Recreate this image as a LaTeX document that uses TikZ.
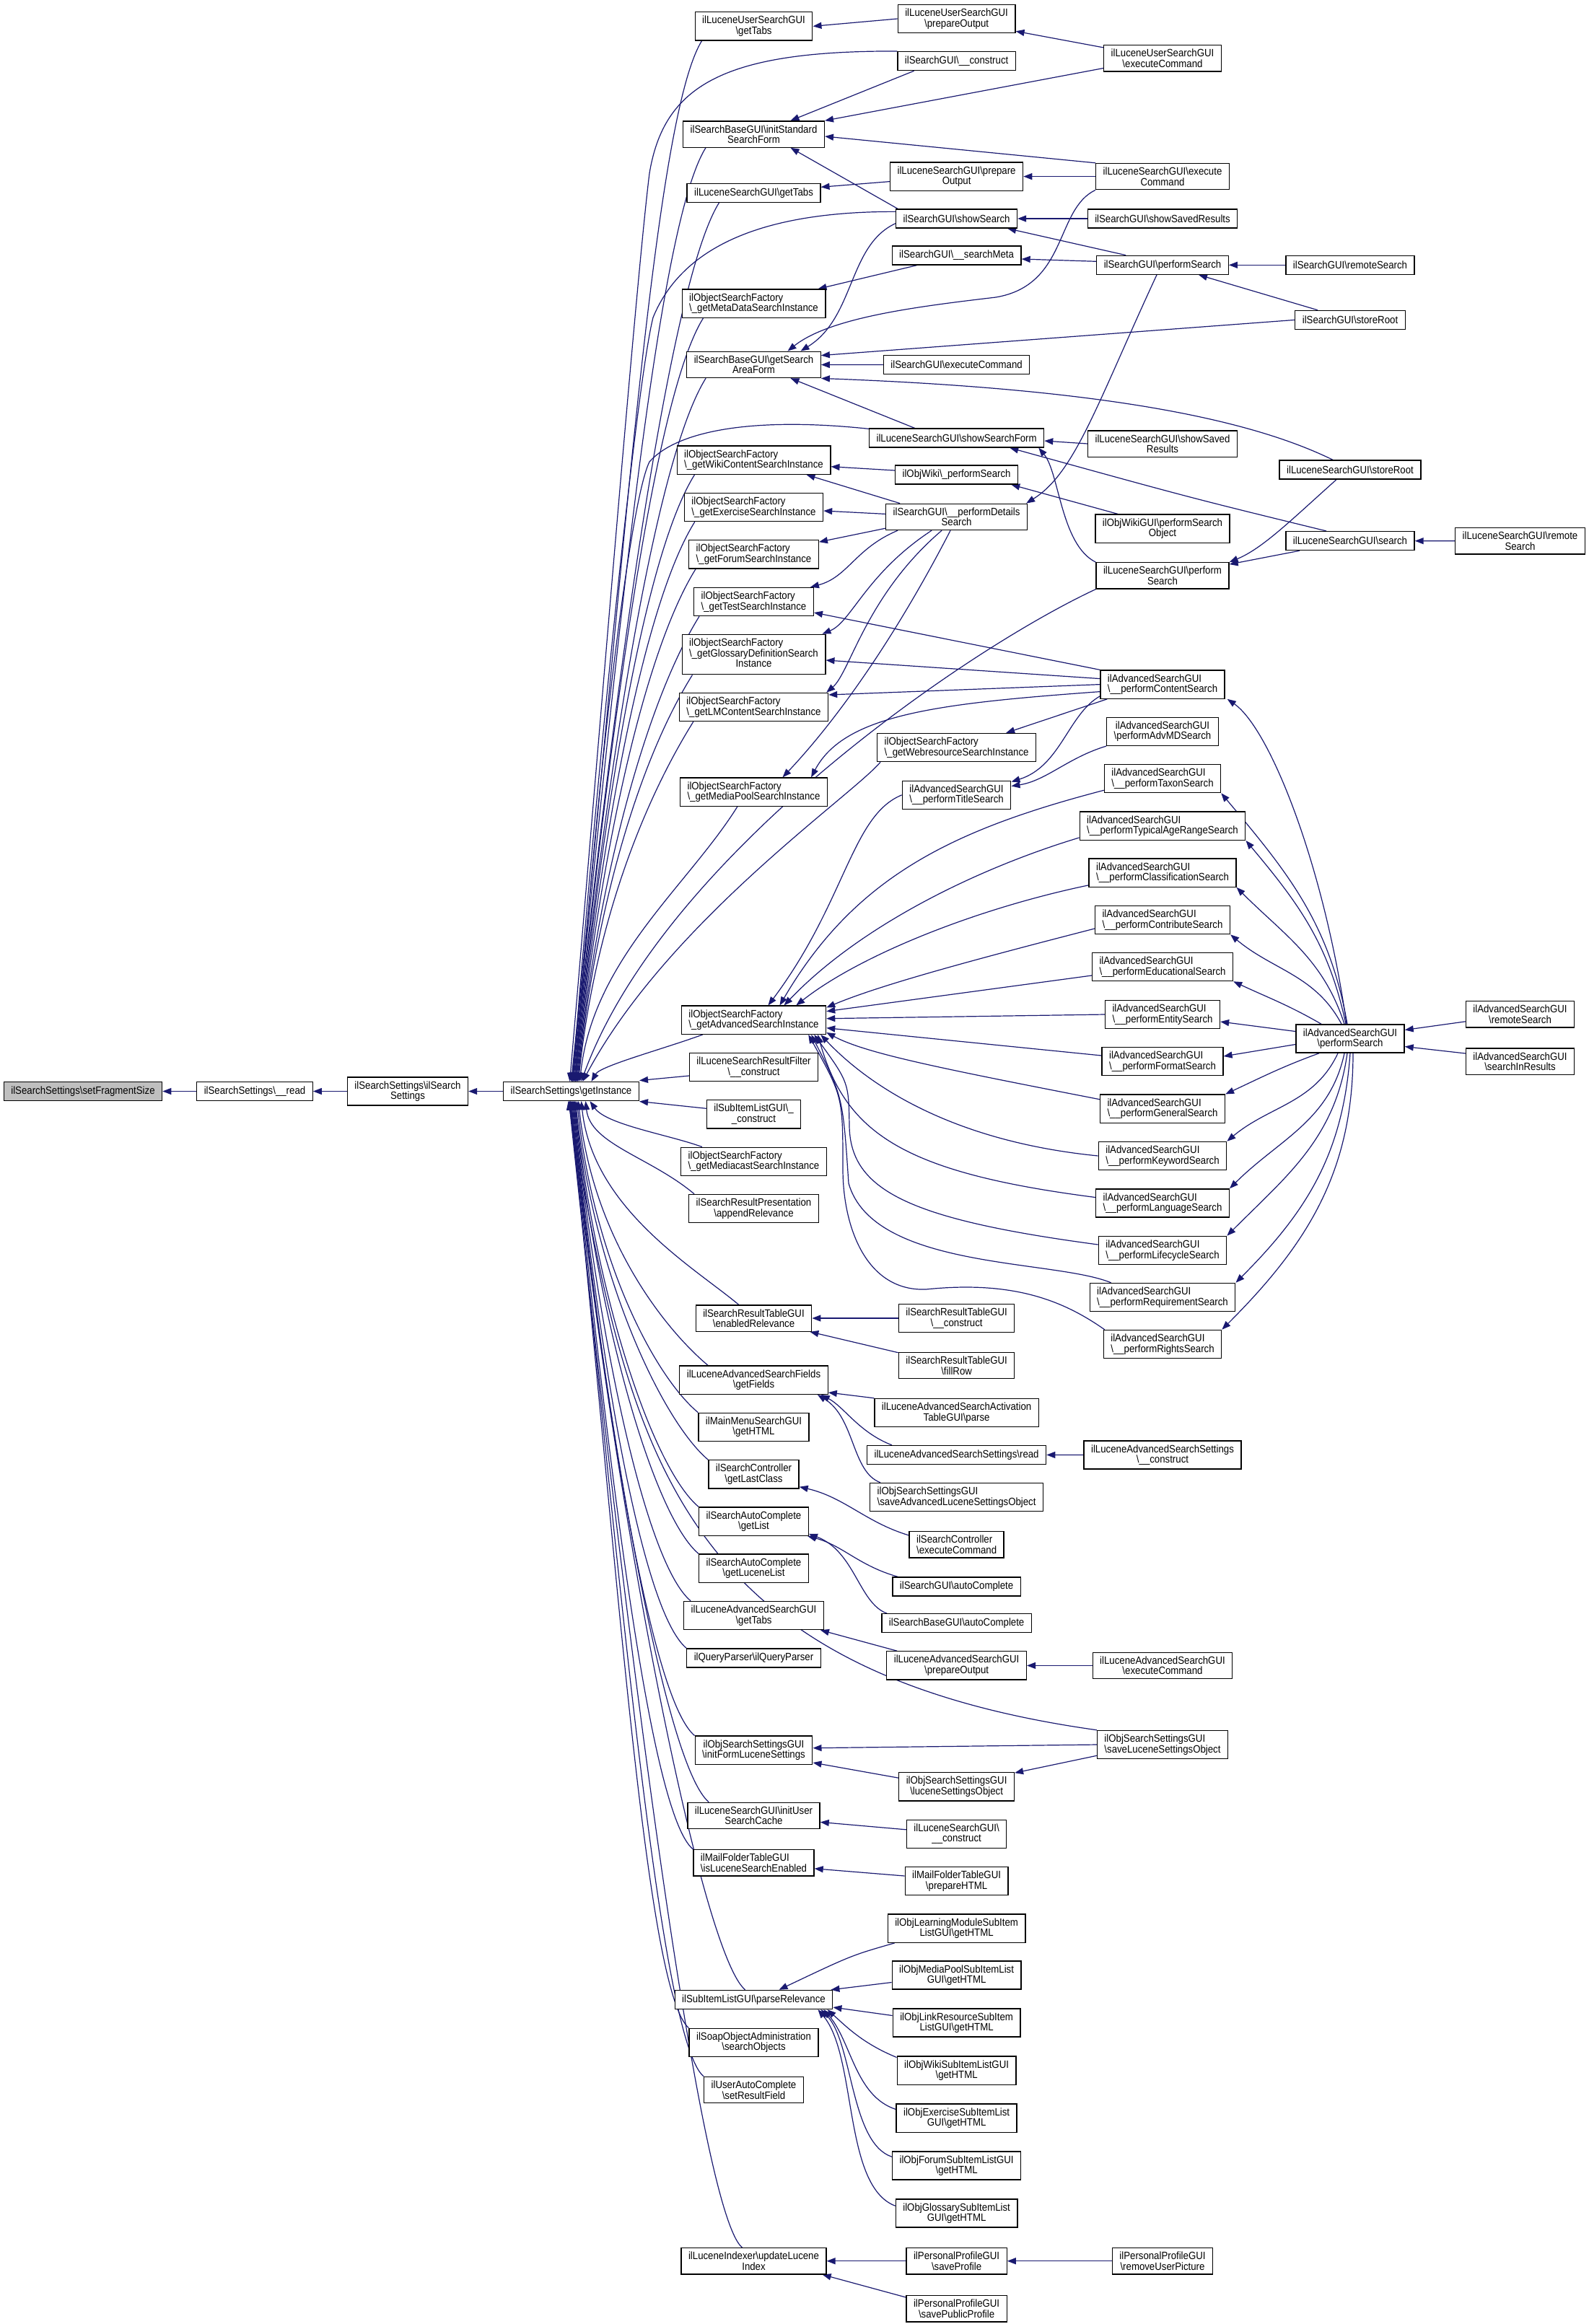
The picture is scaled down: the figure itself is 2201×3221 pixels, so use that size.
\documentclass[tikz,border=0pt]{standalone}
\usepackage{fontspec}
\setmainfont{Liberation Sans}[FakeStretch=0.9]
\usepackage{tikz}
\usetikzlibrary{arrows.meta}
\usetikzlibrary{backgrounds}
\definecolor{edgeblue}{HTML}{191970}
\definecolor{rootgray}{HTML}{BFBFBF}
\newcommand{\bs}{\textbackslash}
\tikzset{
  fn/.style={draw=black, line width=1.3pt, fill=white, inner xsep=10pt, inner ysep=5.5pt,
    minimum height=26pt, align=center, font=\fontsize{14.7}{14.5}\selectfont},
  fnl/.style={fn, align=left},
  root/.style={fn, fill=rootgray},
  call/.style={draw=edgeblue, line width=1.2pt, -{Triangle[length=12pt,width=9pt]}}
}
\begin{document}
\begin{tikzpicture}[x=1pt, y=1pt]
  \useasboundingbox (0,0) rectangle (2201,-3221);

  % the function and its direct chain
  \node[root] (fs) at (115,-1512.5) {ilSearchSettings\bs setFragmentSize};
  \node[fn] (rd) at (353,-1512.5) {ilSearchSettings\bs\_\_read};
  \node[fn] (ss) at (565,-1512.5) {ilSearchSettings\bs ilSearch\\Settings};
  \node[fn] (gi) at (791.5,-1512.5) {ilSearchSettings\bs getInstance};

  % callers of getInstance
  \node[fn] (lusTabs) at (1044.5,-36.4) {ilLuceneUserSearchGUI\\\bs getTabs};
  \node[fn] (sbInit) at (1044.5,-186) {ilSearchBaseGUI\bs initStandard\\SearchForm};
  \node[fn] (lsTabs) at (1044.5,-267.3) {ilLuceneSearchGUI\bs getTabs};
  \node[fnl] (osfMeta) at (1044.5,-420.7) {ilObjectSearchFactory\\\bs\_getMetaDataSearchInstance};
  \node[fn] (sbArea) at (1044.5,-505.4) {ilSearchBaseGUI\bs getSearch\\AreaForm};
  \node[fnl] (osfWiki) at (1044.5,-637.7) {ilObjectSearchFactory\\\bs\_getWikiContentSearchInstance};
  \node[fnl] (osfExercise) at (1044.5,-703) {ilObjectSearchFactory\\\bs\_getExerciseSearchInstance};
  \node[fnl] (osfForum) at (1044.5,-768.4) {ilObjectSearchFactory\\\bs\_getForumSearchInstance};
  \node[fnl] (osfTest) at (1044.5,-834) {ilObjectSearchFactory\\\bs\_getTestSearchInstance};
  \node[fn] (osfGlossary) at (1044.5,-907) {\begin{tabular}{@{}l@{}}ilObjectSearchFactory\\\bs\_getGlossaryDefinitionSearch\\\multicolumn{1}{@{}c@{}}{Instance}\end{tabular}};
  \node[fnl] (osfLM) at (1044.5,-980) {ilObjectSearchFactory\\\bs\_getLMContentSearchInstance};
  \node[fnl] (osfMediaPool) at (1044.5,-1097.6) {ilObjectSearchFactory\\\bs\_getMediaPoolSearchInstance};
  \node[fnl] (osfAdvanced) at (1044.5,-1413.7) {ilObjectSearchFactory\\\bs\_getAdvancedSearchInstance};
  \node[fn] (lsrFilter) at (1044.5,-1479) {ilLuceneSearchResultFilter\\\bs\_\_construct};
  \node[fn] (subConstruct) at (1044.5,-1544.3) {ilSubItemListGUI\bs\_\\\_construct};
  \node[fnl] (osfMediacast) at (1044.5,-1609.8) {ilObjectSearchFactory\\\bs\_getMediacastSearchInstance};
  \node[fn] (srpRelevance) at (1044.5,-1675) {ilSearchResultPresentation\\\bs appendRelevance};
  \node[fn] (srtRelevance) at (1044.5,-1827) {ilSearchResultTableGUI\\\bs enabledRelevance};
  \node[fn] (lasfFields) at (1044.5,-1912.7) {ilLuceneAdvancedSearchFields\\\bs getFields};
  \node[fn] (mmHTML) at (1044.5,-1977.9) {ilMainMenuSearchGUI\\\bs getHTML};
  \node[fn] (scLastClass) at (1044.5,-2043.4) {ilSearchController\\\bs getLastClass};
  \node[fn] (sacList) at (1044.5,-2108.6) {ilSearchAutoComplete\\\bs getList};
  \node[fn] (sacLucene) at (1044.5,-2173.6) {ilSearchAutoComplete\\\bs getLuceneList};
  \node[fn] (lasTabs) at (1044.5,-2239) {ilLuceneAdvancedSearchGUI\\\bs getTabs};
  \node[fn] (qpParser) at (1044.5,-2297.9) {ilQueryParser\bs ilQueryParser};
  \node[fn] (ossInit) at (1044.5,-2425.7) {ilObjSearchSettingsGUI\\\bs initFormLuceneSettings};
  \node[fn] (lsInitCache) at (1044.5,-2516.4) {ilLuceneSearchGUI\bs initUser\\SearchCache};
  \node[fnl] (mftEnabled) at (1044.5,-2581.8) {ilMailFolderTableGUI\\\bs isLuceneSearchEnabled};
  \node[fn] (silRelevance) at (1044.5,-2771.4) {ilSubItemListGUI\bs parseRelevance};
  \node[fn] (soapSearch) at (1044.5,-2830.8) {ilSoapObjectAdministration\\\bs searchObjects};
  \node[fn] (uacField) at (1044.5,-2896.6) {ilUserAutoComplete\\\bs setResultField};
  \node[fn] (liUpdate) at (1044.5,-3133.7) {ilLuceneIndexer\bs updateLucene\\Index};

  % second level
  \node[fn] (lusPrep) at (1325.6,-26) {ilLuceneUserSearchGUI\\\bs prepareOutput};
  \node[fn] (sgConstruct) at (1325.6,-84.6) {ilSearchGUI\bs\_\_construct};
  \node[fn] (lsPrep) at (1325.6,-244.6) {ilLuceneSearchGUI\bs prepare\\Output};
  \node[fn] (sgShowSearch) at (1325.6,-303) {ilSearchGUI\bs showSearch};
  \node[fn] (sgSearchMeta) at (1325.6,-354) {ilSearchGUI\bs\_\_searchMeta};
  \node[fn] (sgExec) at (1325.6,-505.7) {ilSearchGUI\bs executeCommand};
  \node[fn] (lsShowForm) at (1325.6,-607) {ilLuceneSearchGUI\bs showSearchForm};
  \node[fn] (owPerform) at (1325.6,-658) {ilObjWiki\bs\_performSearch};
  \node[fn] (sgDetails) at (1325.6,-716.4) {ilSearchGUI\bs\_\_performDetails\\Search};
  \node[fnl] (osfWeb) at (1325.6,-1036) {ilObjectSearchFactory\\\bs\_getWebresourceSearchInstance};
  \node[fnl] (advTitle) at (1325.6,-1101.8) {ilAdvancedSearchGUI\\\bs\_\_performTitleSearch};
  \node[fn] (srtConstruct) at (1325.6,-1827) {ilSearchResultTableGUI\\\bs\_\_construct};
  \node[fn] (srtFillRow) at (1325.6,-1892.5) {ilSearchResultTableGUI\\\bs fillRow};
  \node[fn] (lasaParse) at (1325.6,-1958) {ilLuceneAdvancedSearchActivation\\TableGUI\bs parse};
  \node[fn] (lassRead) at (1325.6,-2016.5) {ilLuceneAdvancedSearchSettings\bs read};
  \node[fnl] (ossAdvanced) at (1325.6,-2075) {ilObjSearchSettingsGUI\\\bs saveAdvancedLuceneSettingsObject};
  \node[fnl] (scExec) at (1325.6,-2140.7) {ilSearchController\\\bs executeCommand};
  \node[fn] (sgAuto) at (1325.6,-2199) {ilSearchGUI\bs autoComplete};
  \node[fn] (sbAuto) at (1325.6,-2249.8) {ilSearchBaseGUI\bs autoComplete};
  \node[fn] (lasPrep) at (1325.6,-2308.4) {ilLuceneAdvancedSearchGUI\\\bs prepareOutput};
  \node[fn] (ossLucene) at (1325.6,-2476.4) {ilObjSearchSettingsGUI\\\bs luceneSettingsObject};
  \node[fn] (lsConstruct) at (1325.6,-2541.8) {ilLuceneSearchGUI\bs\\\_\_construct};
  \node[fn] (mftPrep) at (1325.6,-2607) {ilMailFolderTableGUI\\\bs prepareHTML};
  \node[fn] (lmHTML) at (1325.6,-2672.7) {ilObjLearningModuleSubItem\\ListGUI\bs getHTML};
  \node[fn] (mpHTML) at (1325.6,-2737.5) {ilObjMediaPoolSubItemList\\GUI\bs getHTML};
  \node[fn] (lrHTML) at (1325.6,-2803.5) {ilObjLinkResourceSubItem\\ListGUI\bs getHTML};
  \node[fn] (wikiHTML) at (1325.6,-2869.7) {ilObjWikiSubItemListGUI\\\bs getHTML};
  \node[fn] (exHTML) at (1325.6,-2935.7) {ilObjExerciseSubItemList\\GUI\bs getHTML};
  \node[fn] (forumHTML) at (1325.6,-3001.5) {ilObjForumSubItemListGUI\\\bs getHTML};
  \node[fn] (glossHTML) at (1325.6,-3067.5) {ilObjGlossarySubItemList\\GUI\bs getHTML};
  \node[fn] (ppSave) at (1325.6,-3133.7) {ilPersonalProfileGUI\\\bs saveProfile};
  \node[fn] (ppPublic) at (1325.6,-3199.8) {ilPersonalProfileGUI\\\bs savePublicProfile};

  % third level
  \node[fn] (lusExec) at (1611,-80.7) {ilLuceneUserSearchGUI\\\bs executeCommand};
  \node[fn] (lsExec) at (1611,-244.6) {ilLuceneSearchGUI\bs execute\\Command};
  \node[fn] (sgShowSaved) at (1611,-303) {ilSearchGUI\bs showSavedResults};
  \node[fn] (sgPerform) at (1611,-367.3) {ilSearchGUI\bs performSearch};
  \node[fn] (lsShowSaved) at (1611,-615) {ilLuceneSearchGUI\bs showSaved\\Results};
  \node[fn] (owgPerform) at (1611,-732.7) {ilObjWikiGUI\bs performSearch\\Object};
  \node[fn] (lsPerform) at (1611,-797.9) {ilLuceneSearchGUI\bs perform\\Search};
  \node[fnl] (advContent) at (1611,-948.6) {ilAdvancedSearchGUI\\\bs\_\_performContentSearch};
  \node[fn] (advMD) at (1611,-1013.8) {ilAdvancedSearchGUI\\\bs performAdvMDSearch};
  \node[fnl] (advTaxon) at (1611,-1079) {ilAdvancedSearchGUI\\\bs\_\_performTaxonSearch};
  \node[fnl] (advTypical) at (1611,-1144.7) {ilAdvancedSearchGUI\\\bs\_\_performTypicalAgeRangeSearch};
  \node[fnl] (advClass) at (1611,-1209.6) {ilAdvancedSearchGUI\\\bs\_\_performClassificationSearch};
  \node[fnl] (advContrib) at (1611,-1275) {ilAdvancedSearchGUI\\\bs\_\_performContributeSearch};
  \node[fnl] (advEdu) at (1611,-1340) {ilAdvancedSearchGUI\\\bs\_\_performEducationalSearch};
  \node[fnl] (advEntity) at (1611,-1406) {ilAdvancedSearchGUI\\\bs\_\_performEntitySearch};
  \node[fnl] (advFormat) at (1611,-1471) {ilAdvancedSearchGUI\\\bs\_\_performFormatSearch};
  \node[fnl] (advGeneral) at (1611,-1536.7) {ilAdvancedSearchGUI\\\bs\_\_performGeneralSearch};
  \node[fnl] (advKeyword) at (1611,-1602) {ilAdvancedSearchGUI\\\bs\_\_performKeywordSearch};
  \node[fnl] (advLanguage) at (1611,-1667.5) {ilAdvancedSearchGUI\\\bs\_\_performLanguageSearch};
  \node[fnl] (advLifecycle) at (1611,-1733) {ilAdvancedSearchGUI\\\bs\_\_performLifecycleSearch};
  \node[fnl] (advRequirement) at (1611,-1798) {ilAdvancedSearchGUI\\\bs\_\_performRequirementSearch};
  \node[fnl] (advRights) at (1611,-1863) {ilAdvancedSearchGUI\\\bs\_\_performRightsSearch};
  \node[fn] (lassConstruct) at (1611,-2016.4) {ilLuceneAdvancedSearchSettings\\\bs\_\_construct};
  \node[fn] (lasExec) at (1611,-2308.4) {ilLuceneAdvancedSearchGUI\\\bs executeCommand};
  \node[fnl] (ossSave) at (1611,-2418) {ilObjSearchSettingsGUI\\\bs saveLuceneSettingsObject};
  \node[fn] (ppRemove) at (1611,-3133.7) {ilPersonalProfileGUI\\\bs removeUserPicture};

  % fourth and fifth level
  \node[fn] (sgRemote) at (1871,-367.3) {ilSearchGUI\bs remoteSearch};
  \node[fn] (sgStoreRoot) at (1871,-443.4) {ilSearchGUI\bs storeRoot};
  \node[fn] (lsStoreRoot) at (1871,-651) {ilLuceneSearchGUI\bs storeRoot};
  \node[fn] (lsSearch) at (1871,-749.6) {ilLuceneSearchGUI\bs search};
  \node[fn] (advPerform) at (1871,-1439.5) {ilAdvancedSearchGUI\\\bs performSearch};
  \node[fn] (lsRemote) at (2106.5,-749.8) {ilLuceneSearchGUI\bs remote\\Search};
  \node[fn] (advRemote) at (2106.5,-1405.8) {ilAdvancedSearchGUI\\\bs remoteSearch};
  \node[fn] (advInResults) at (2106.5,-1471) {ilAdvancedSearchGUI\\\bs searchInResults};

  \begin{scope}[on background layer]
    \draw[call] (rd) -- (fs);
    \draw[call] (ss) -- (rd);
    \draw[call] (gi) -- (ss);

    % into getInstance from above
    \foreach \src/\sx/\dx/\d in {lusTabs/10/0/650, sbInit/32/1/580, lsTabs/45/2/550, osfMeta/30/3/480,
        sbArea/27/4/450, osfWiki/25/5/390, osfExercise/15/6/360, osfForum/10/7/330, osfTest/8/8/300,
        osfGlossary/15/9/260, osfLM/20/10/220, osfMediaPool/80/12/170}
      \draw[call] ([xshift=\sx]\src.south west) .. controls +(238:130) and +(84:\d) .. ([xshift=\dx]gi.north);
    \draw[call] (sgConstruct.north west) .. controls (1000,-70) and (920,-120) .. (900,-240)
      .. controls (880,-400) and (820,-1150) .. ([xshift=-2]gi.north);
    \draw[call] ([yshift=-4]sgShowSearch.north west) .. controls (1080,-293) and (950,-330) .. (905,-440)
      .. controls (880,-540) and (820,-1150) .. ([xshift=2]gi.north);
    \draw[call] ([yshift=-1]lsShowForm.north west) .. controls (1050,-578) and (940,-595) .. (900,-640)
      .. controls (870,-700) and (820,-1150) .. ([xshift=6]gi.north);
    \draw[call] (lsPerform.south west) .. controls +(205:200) and +(70:330) .. ([xshift=14]gi.north);
    \draw[call] ([xshift=5]osfWeb.south west) .. controls +(230:60) and +(62:250) .. ([xshift=16]gi.north);
    \draw[call] ([xshift=30]osfAdvanced.south west) .. controls +(200:60) and +(60:25) .. ([xshift=28]gi.north);
    \draw[call] ([yshift=-12]lsrFilter.west) -- ([yshift=15]gi.east);
    \draw[call] ([yshift=8]subConstruct.west) -- ([yshift=-14]gi.east);

    % into getInstance from below
    \draw[call] ([xshift=30]osfMediacast.north west) .. controls +(160:50) and +(-55:40) .. ([xshift=26]gi.south);
    \foreach \src/\sx/\dx/\d in {srpRelevance/8/20/60, srtRelevance/60/14/150, lasfFields/40/10/190,
        mmHTML/0/8/220, scLastClass/0/6/250, sacList/0/5/280, sacLucene/0/4/310, lasTabs/10/3/340,
        qpParser/0/2/370, ossInit/0/1/420, lsInitCache/30/0/450, mftEnabled/0/-1/490,
        silRelevance/98/-1/560, soapSearch/0/-2/600, uacField/0/-2/650, liUpdate/85/-3/700}
      \draw[call] ([xshift=\sx]\src.north west) .. controls +(140:80) and +(-84:\d) .. ([xshift=\dx]gi.south);
    \draw[call] (ossSave.north west) .. controls +(172:600) and +(-80:480) .. ([xshift=-4]gi.south);

    % upper part
    \draw[call] (lusPrep.west) -- (lusTabs.east);
    \draw[call] ([yshift=-4]lusExec.north west) -- ([yshift=3]lusPrep.south east);
    \draw[call] ([yshift=5]lusExec.south west) -- (sbInit.north east);
    \draw[call] ([xshift=-59]sgConstruct.south) -- ([xshift=51]sbInit.north);
    \draw[call] (lsExec.north west) -- ([yshift=-3]sbInit.east);
    \draw[call] ([xshift=3]sgShowSearch.north west) -- ([xshift=51]sbInit.south);
    \draw[call] ([yshift=-7]lsPrep.west) -- ([yshift=8]lsTabs.east);
    \draw[call] (lsExec) -- (lsPrep);
    \draw[call] (sgShowSaved) -- (sgShowSearch);
    \draw[call] ([xshift=41]sgPerform.north west) -- ([xshift=-14]sgShowSearch.south east);
    \draw[call] ([yshift=5]sgPerform.west) -- ([yshift=-5]sgSearchMeta.east);
    \draw[call] ([xshift=35]sgSearchMeta.south west) -- ([xshift=-11]osfMeta.north east);
    \draw[call] (sgRemote) -- (sgPerform);
    \draw[call] ([xshift=-45]sgStoreRoot.north) -- ([xshift=50]sgPerform.south);
    \draw[call] ([yshift=7]sgShowSearch.south west) .. controls (1175,-340) and (1185,-440) .. ([xshift=65]sbArea.north);
    \draw[call] (lsExec.south west) .. controls (1462,-290) and (1480,-395) .. (1380,-412)
      .. controls (1270,-425) and (1150,-440) .. ([xshift=47]sbArea.north);
    \draw[call] (sgStoreRoot.west) -- ([yshift=-6]sbArea.north east);
    \draw[call] (sgExec) -- (sbArea);
    \draw[call] ([xshift=-58]lsShowForm.north) -- ([xshift=51]sbArea.south);
    \draw[call] ([xshift=-24]lsStoreRoot.north) .. controls (1720,-575) and (1500,-538) .. ([yshift=-19]sbArea.east);
    \draw[call] (lsShowSaved.west) -- ([yshift=-4]lsShowForm.east);
    \draw[call] (lsPerform.north west) .. controls (1470,-755) and (1468,-655) .. ([xshift=-8]lsShowForm.south east);
    \draw[call] ([xshift=-33]lsSearch.north) .. controls (1650,-690) .. ([xshift=-48]lsShowForm.south east);
    \draw[call] ([yshift=6]owPerform.west) -- ([yshift=-9]osfWiki.east);
    \draw[call] ([xshift=32]owgPerform.north west) -- ([xshift=-10]owPerform.south east);
    \draw[call] ([xshift=20]sgDetails.north west) -- ([xshift=-34]osfWiki.south east);
    \draw[call] ([yshift=4]sgDetails.west) -- ([yshift=-5]osfExercise.east);
    \draw[call] ([yshift=3]sgDetails.south west) -- ([yshift=-3]osfForum.north east);
    \draw[call] ([xshift=17]sgDetails.south west) .. controls (1185,-760) and (1175,-800) .. ([xshift=-5]osfTest.north east);
    \draw[call] ([xshift=64]sgDetails.south west) .. controls (1200,-795) and (1180,-862) .. ([xshift=-5]osfGlossary.north east);
    \draw[call] ([xshift=78]sgDetails.south west) .. controls (1200,-825) and (1178,-932) .. ([xshift=-3]osfLM.north east);
    \draw[call] ([xshift=90]sgDetails.south west) .. controls (1232,-900) and (1150,-1008) .. ([xshift=40]osfMediaPool.north);
    \draw[call] ([xshift=-8]sgPerform.south) .. controls (1520,-560) and (1490,-655) .. ([xshift=-2]sgDetails.north east);
    \draw[call] ([xshift=-19]lsStoreRoot.south) .. controls (1790,-720) and (1750,-760) .. (lsPerform.north east);
    \draw[call] ([xshift=-70]lsSearch.south) -- ([yshift=-3]lsPerform.north east);
    \draw[call] (lsRemote) -- (lsSearch);

    % advanced search
    \draw[call] (advContent.north west) -- ([yshift=-15]osfTest.east);
    \draw[call] ([yshift=8]advContent.west) -- ([yshift=-8]osfGlossary.east);
    \draw[call] (advContent.west) -- ([yshift=17]osfLM.east);
    \draw[call] ([yshift=-10]advContent.west) .. controls (1300,-975) and (1170,-990) .. ([xshift=-23]osfMediaPool.north east);
    \draw[call] ([xshift=10]advContent.south west) -- ([xshift=-42]osfWeb.north east);
    \draw[call] ([yshift=4]advContent.south west) .. controls (1480,-990) and (1470,-1062) .. ([yshift=-2]advTitle.north east);
    \draw[call] (advMD.south west) .. controls (1480,-1050) and (1450,-1082) .. ([yshift=-8]advTitle.north east);
    \draw[call] ([xshift=-5]advPerform.north) .. controls (1835,-1200) and (1760,-1010) .. ([xshift=3]advContent.south east);
    \foreach \dst/\sx/\o/\i in {advTaxon/-4/100/-50, advTypical/-6/102/-50, advClass/-8/108/-45,
        advContrib/-12/118/-40, advEdu/-40/150/-25}
      \draw[call] ([xshift=\sx]advPerform.north) to[out=\o, in=\i] (\dst.south east);
    \draw[call] ([yshift=10]advPerform.west) -- ([yshift=-10]advEntity.east);
    \draw[call] ([yshift=-8]advPerform.west) -- ([yshift=7]advFormat.east);
    \foreach \dst/\sx/\o/\i in {advGeneral/-43/200/25, advKeyword/-17/245/40, advLanguage/-8/258/45,
        advLifecycle/-4/262/45, advRequirement/0/266/45, advRights/4/270/45}
      \draw[call] ([xshift=\sx]advPerform.south) to[out=\o, in=\i] (\dst.north east);
    \draw[call] ([yshift=-10]advRemote.west) -- ([yshift=12]advPerform.east);
    \draw[call] ([yshift=11]advInResults.west) -- ([yshift=-11]advPerform.east);

    \draw[call] (advTitle.west) .. controls (1180,-1130) and (1172,-1250) .. ([xshift=20]osfAdvanced.north);
    \draw[call] ([yshift=4]advTaxon.south west) .. controls (1320,-1150) and (1185,-1215) .. ([xshift=36]osfAdvanced.north);
    \draw[call] ([yshift=4]advTypical.south west) .. controls (1350,-1205) and (1190,-1285) .. ([xshift=42]osfAdvanced.north);
    \draw[call] ([yshift=3]advClass.south west) .. controls (1350,-1260) and (1190,-1325) .. ([xshift=-42]osfAdvanced.north east);
    \draw[call] ([yshift=-12]advContrib.west) .. controls (1350,-1330) and (1220,-1365) .. ([yshift=-3]osfAdvanced.north east);
    \draw[call] ([yshift=-12]advEdu.west) -- ([yshift=12]osfAdvanced.east);
    \draw[call] (advEntity.west) -- ([yshift=2]osfAdvanced.east);
    \draw[call] ([yshift=8]advFormat.west) -- ([yshift=-11]osfAdvanced.east);
    \draw[call] ([yshift=13]advGeneral.west) .. controls (1300,-1480) and (1200,-1460) .. ([yshift=3]osfAdvanced.south east);
    \draw[call] (advKeyword.west) .. controls (1300,-1580) and (1190,-1490) .. ([xshift=-8]osfAdvanced.south east);
    \draw[call] ([yshift=8]advLanguage.west) .. controls (1250,-1625) and (1172,-1570) .. ([xshift=-12]osfAdvanced.south east);
    \draw[call] ([yshift=8]advLifecycle.west) .. controls (1260,-1690) and (1178,-1650) .. (1177,-1560)
      .. controls (1176,-1500) .. ([xshift=-17]osfAdvanced.south east);
    \draw[call] ([xshift=30]advRequirement.north west) .. controls (1460,-1745) and (1210,-1760) .. (1176,-1640)
      .. controls (1168,-1520) .. ([xshift=-21]osfAdvanced.south east);
    \draw[call] ([xshift=2]advRights.north west) .. controls (1470,-1800) and (1400,-1775) .. (1283,-1787)
      .. controls (1200,-1790) and (1168,-1700) .. (1168,-1620) .. controls (1168,-1520) .. ([xshift=-25]osfAdvanced.south east);

    % lower part
    \draw[call] (srtConstruct) -- (srtRelevance);
    \draw[call] ([yshift=-1]srtFillRow.north west) -- ([xshift=-3]srtRelevance.south east);
    \draw[call] (lasaParse.north west) -- ([yshift=3]lasfFields.south east);
    \draw[call] ([xshift=35]lassRead.north west) .. controls (1190,-1985) and (1170,-1950) .. ([xshift=-10]lasfFields.south east);
    \draw[call] ([xshift=15]ossAdvanced.north west) .. controls (1180,-2040) and (1185,-1965) .. ([xshift=-15]lasfFields.south east);
    \draw[call] (lassConstruct) -- (lassRead);
    \draw[call] ([yshift=-6]scExec.north west) .. controls (1200,-2110) and (1170,-2075) .. ([yshift=3]scLastClass.south east);
    \draw[call] ([xshift=8]sgAuto.north west) .. controls (1190,-2170) and (1168,-2142) .. ([xshift=-2]sacList.south east);
    \draw[call] ([xshift=8]sbAuto.north west) .. controls (1190,-2222) and (1185,-2150) .. ([yshift=3]sacList.south east);
    \draw[call] ([xshift=15]lasPrep.north west) -- ([xshift=-5]lasTabs.south east);
    \draw[call] (lasExec) -- (lasPrep);
    \draw[call] (ossSave.west) -- ([yshift=3]ossInit.east);
    \draw[call] ([yshift=-8]ossLucene.north west) -- ([yshift=3]ossInit.south east);
    \draw[call] ([yshift=5]ossSave.south west) -- ([yshift=-1]ossLucene.north east);
    \draw[call] ([yshift=6]lsConstruct.west) -- ([yshift=-9]lsInitCache.east);
    \draw[call] ([yshift=7]mftPrep.west) -- ([yshift=-8]mftEnabled.east);
    \draw[call] ([xshift=10]lmHTML.south west) .. controls (1180,-2710) .. ([xshift=35]silRelevance.north);
    \draw[call] ([yshift=-10]mpHTML.west) -- ([xshift=-3]silRelevance.north east);
    \draw[call] ([yshift=10]lrHTML.west) -- ([yshift=3]silRelevance.south east);
    \draw[call] ([yshift=-2]wikiHTML.north west) .. controls (1195,-2832) and (1172,-2808) .. ([xshift=-8]silRelevance.south east);
    \draw[call] ([yshift=-8]exHTML.north west) .. controls (1185,-2905) and (1180,-2830) .. ([xshift=-13]silRelevance.south east);
    \draw[call] ([yshift=-8]forumHTML.north west) .. controls (1178,-2970) and (1182,-2830) .. ([xshift=-17]silRelevance.south east);
    \draw[call] ([yshift=-10]glossHTML.north west) .. controls (1168,-3030) and (1188,-2850) .. ([xshift=-21]silRelevance.south east);
    \draw[call] (ppSave) -- (liUpdate);
    \draw[call] ([yshift=-3]ppPublic.north west) -- ([xshift=-6]liUpdate.south east);
    \draw[call] (ppRemove) -- (ppSave);
  \end{scope}
\end{tikzpicture}
\end{document}
